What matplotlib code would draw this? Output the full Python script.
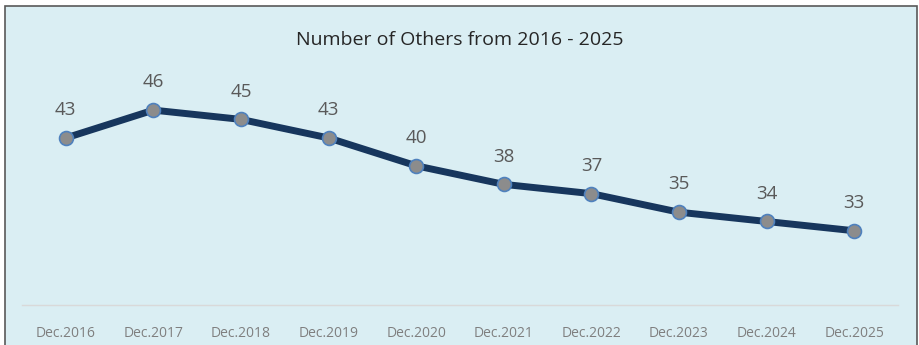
import matplotlib
matplotlib.use("Agg")
import matplotlib.pyplot as plt
from matplotlib.patches import Rectangle

categories = ["Dec.2016", "Dec.2017", "Dec.2018", "Dec.2019", "Dec.2020",
              "Dec.2021", "Dec.2022", "Dec.2023", "Dec.2024", "Dec.2025"]
values = [43, 46, 45, 43, 40, 38, 37, 35, 34, 33]
title = "Number of Others from 2016 - 2025"

W, H = 919, 345
fig = plt.figure(figsize=(W / 100, H / 100), dpi=100)
fig.patch.set_facecolor("white")

# chart area background with dark frame (bottom edge runs off the image)
bg = Rectangle((5 / W, -10 / H), 912 / W, (H - 6 + 10) / H, transform=fig.transFigure,
               facecolor="#DAEEF3", edgecolor="#595959", linewidth=1.2, zorder=-5)
fig.patches.append(bg)

ax = fig.add_axes([22 / W, 40 / H, 876 / W, 232 / H])
ax.set_zorder(2)
ax.set_facecolor("none")
x = list(range(len(categories)))
ax.plot(x, values, color="#17365D", linewidth=5, solid_capstyle="round",
        marker="o", markersize=10, markerfacecolor="#8C8C8C",
        markeredgecolor="#4F81BD", markeredgewidth=1.2, zorder=3)
for xi, v in zip(x, values):
    ax.annotate(str(v), (xi, v), xytext=(0, 20), textcoords="offset points",
                ha="center", va="center", fontsize=13.5, color="#595959",
                family="Open Sans")

ax.set_xlim(-0.5, len(categories) - 0.5)
ax.set_ylim(25, 50)
ax.set_xticks(x)
ax.set_xticklabels(categories, fontsize=10, color="#7F7F7F", family="Open Sans")
ax.tick_params(axis="x", length=0, pad=15)
ax.set_yticks([])
for s in ["left", "right", "top"]:
    ax.spines[s].set_visible(False)
ax.spines["bottom"].set_color("#D9D9D9")
ax.spines["bottom"].set_linewidth(1)

fig.text(460 / W, 1 - 40 / H, title, ha="center", va="center", fontsize=14,
         color="#262626", family="Open Sans")

fig.savefig("out.png", dpi=100)
